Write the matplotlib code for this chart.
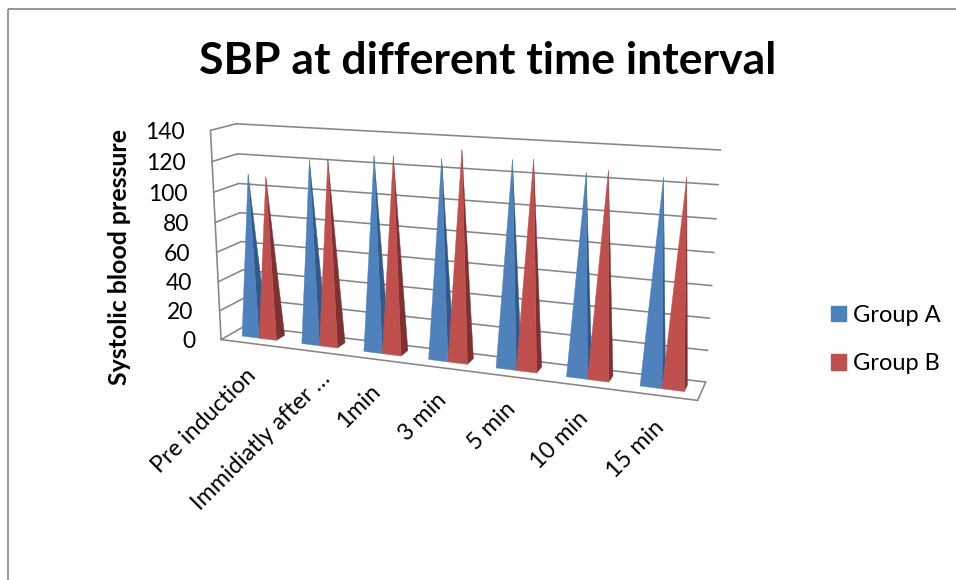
import numpy as np
import matplotlib
matplotlib.use("Agg")
import matplotlib.pyplot as plt
from matplotlib.patches import Patch, Polygon, Rectangle

categories = ["Pre induction", "Immidiatly after …", "1min", "3 min", "5 min", "10 min", "15 min"]
group_a = [110, 122, 127, 128, 130, 125, 125]
group_b = [109, 123, 128, 134, 131, 127, 126]
y_ticks = [0, 20, 40, 60, 80, 100, 120, 140]
title = "SBP at different time interval"
y_title = "Systolic blood pressure"

BLUE, BLUE_DARK = "#4F81BD", "#2F5A8C"
RED, RED_DARK = "#C0504D", "#7E3130"
GRID = "#868686"
FONT = "Lato"

# Camera calibration: chart-space corners (category, depth, value) and where the view puts them
cal_world = np.array([
    (0, 0, 0), (0, 0, 140), (0, 1, 0), (0, 1, 140),
    (7, 1, 0), (7, 1, 140), (7, 0, 0), (0, 1, 60), (7, 1, 60)], float)
cal_view = np.array([
    (221.7, 339), (209.7, 130.7), (244.3, 326.7), (236.7, 123.7),
    (705.7, 381.7), (720.7, 150), (697.7, 400.7), (241.7, 241), (711.7, 285.7)], float)

def fit_camera(world, view):
    rows = []
    for (x, y, z), (u, v) in zip(world, view):
        rows.append([x, y, z, 1, 0, 0, 0, 0, -u * x, -u * y, -u * z, -u])
        rows.append([0, 0, 0, 0, x, y, z, 1, -v * x, -v * y, -v * z, -v])
    return np.linalg.svd(np.array(rows))[2][-1].reshape(3, 4)

CAM = fit_camera(cal_world, cal_view)

def proj(x, y, z):
    p = CAM @ np.array([x, y, z, 1.0])
    return p[0] / p[2], p[1] / p[2]

fig = plt.figure(figsize=(9.56, 5.8), dpi=100)
ax = fig.add_axes([0, 0, 1, 1])
ax.set_xlim(0, 956)
ax.set_ylim(580, 0)
ax.axis("off")

# chart frame (runs off the right and bottom of the picture)
ax.add_patch(Rectangle((8.5, 8.5), 1000, 700, fill=False, ec=GRID, lw=1.2))

n = len(categories)
def seg(a, b, **kw):
    ax.plot(*zip(proj(*a), proj(*b)), color=GRID, lw=1.15, solid_capstyle="round", zorder=1, **kw)

for t in y_ticks:
    seg((0, 0, t), (0, 1, t))
    seg((0, 1, t), (n, 1, t))
seg((0, 0, 0), (0, 0, 140))
seg((0, 0, 0), (n, 0, 0))
seg((n, 0, 0), (n, 1, 0))

D0, D1 = 0.36, 0.72
GAP = 0.21

def pyramid(x0, x1, h, front, side):
    xm, ym = (x0 + x1) / 2, (D0 + D1) / 2
    apex = proj(xm, ym, h)
    fl, fr, br = proj(x0, D0, 0), proj(x1, D0, 0), proj(x1, D1, 0)
    ax.add_patch(Polygon([fr, br, apex], closed=True, fc=side, ec=side, lw=0.3, zorder=3))
    ax.add_patch(Polygon([fl, fr, apex], closed=True, fc=front, ec=front, lw=0.3, zorder=3))

w = (1 - 2 * GAP) / 2
for i in range(n):
    pyramid(i + GAP, i + GAP + w, group_a[i], BLUE, BLUE_DARK)
    pyramid(i + GAP + w, i + GAP + 2 * w, group_b[i], RED, RED_DARK)

# text
ax.text(487.5, 61, title, fontsize=32, fontweight="bold", family=FONT, ha="center", va="center")
ax.text(120, 257, y_title, fontsize=17.9, fontweight="bold", family=FONT, rotation=90, ha="center", va="center")
for t in y_ticks:
    u, v = proj(0, 0, t)
    ax.text(u - 26, v + 2, str(t), fontsize=16.5, family=FONT, ha="right", va="center")
label_nudge = {1: (13, -5)}
for i, c in enumerate(categories):
    u, v = proj(i + 0.5, 0, 0)
    du, dv = label_nudge.get(i, (0, 0))
    ax.text(u + 2 + du, v + 29 + dv, c, fontsize=16.8, family=FONT, rotation=45, ha="right", va="center",
            rotation_mode="anchor")

handles = [Patch(fc=BLUE, ec=BLUE, label="Group A"), Patch(fc=RED, ec=RED, label="Group B")]
ax.legend(handles=handles, loc="upper left", bbox_to_anchor=(826 / 956, 1 - 300 / 580), frameon=False,
          prop={"family": FONT, "size": 17}, handlelength=0.64, handleheight=0.64,
          handletextpad=0.3, labelspacing=1.17, borderpad=0.2, borderaxespad=0)

fig.savefig("out.png", dpi=100)
